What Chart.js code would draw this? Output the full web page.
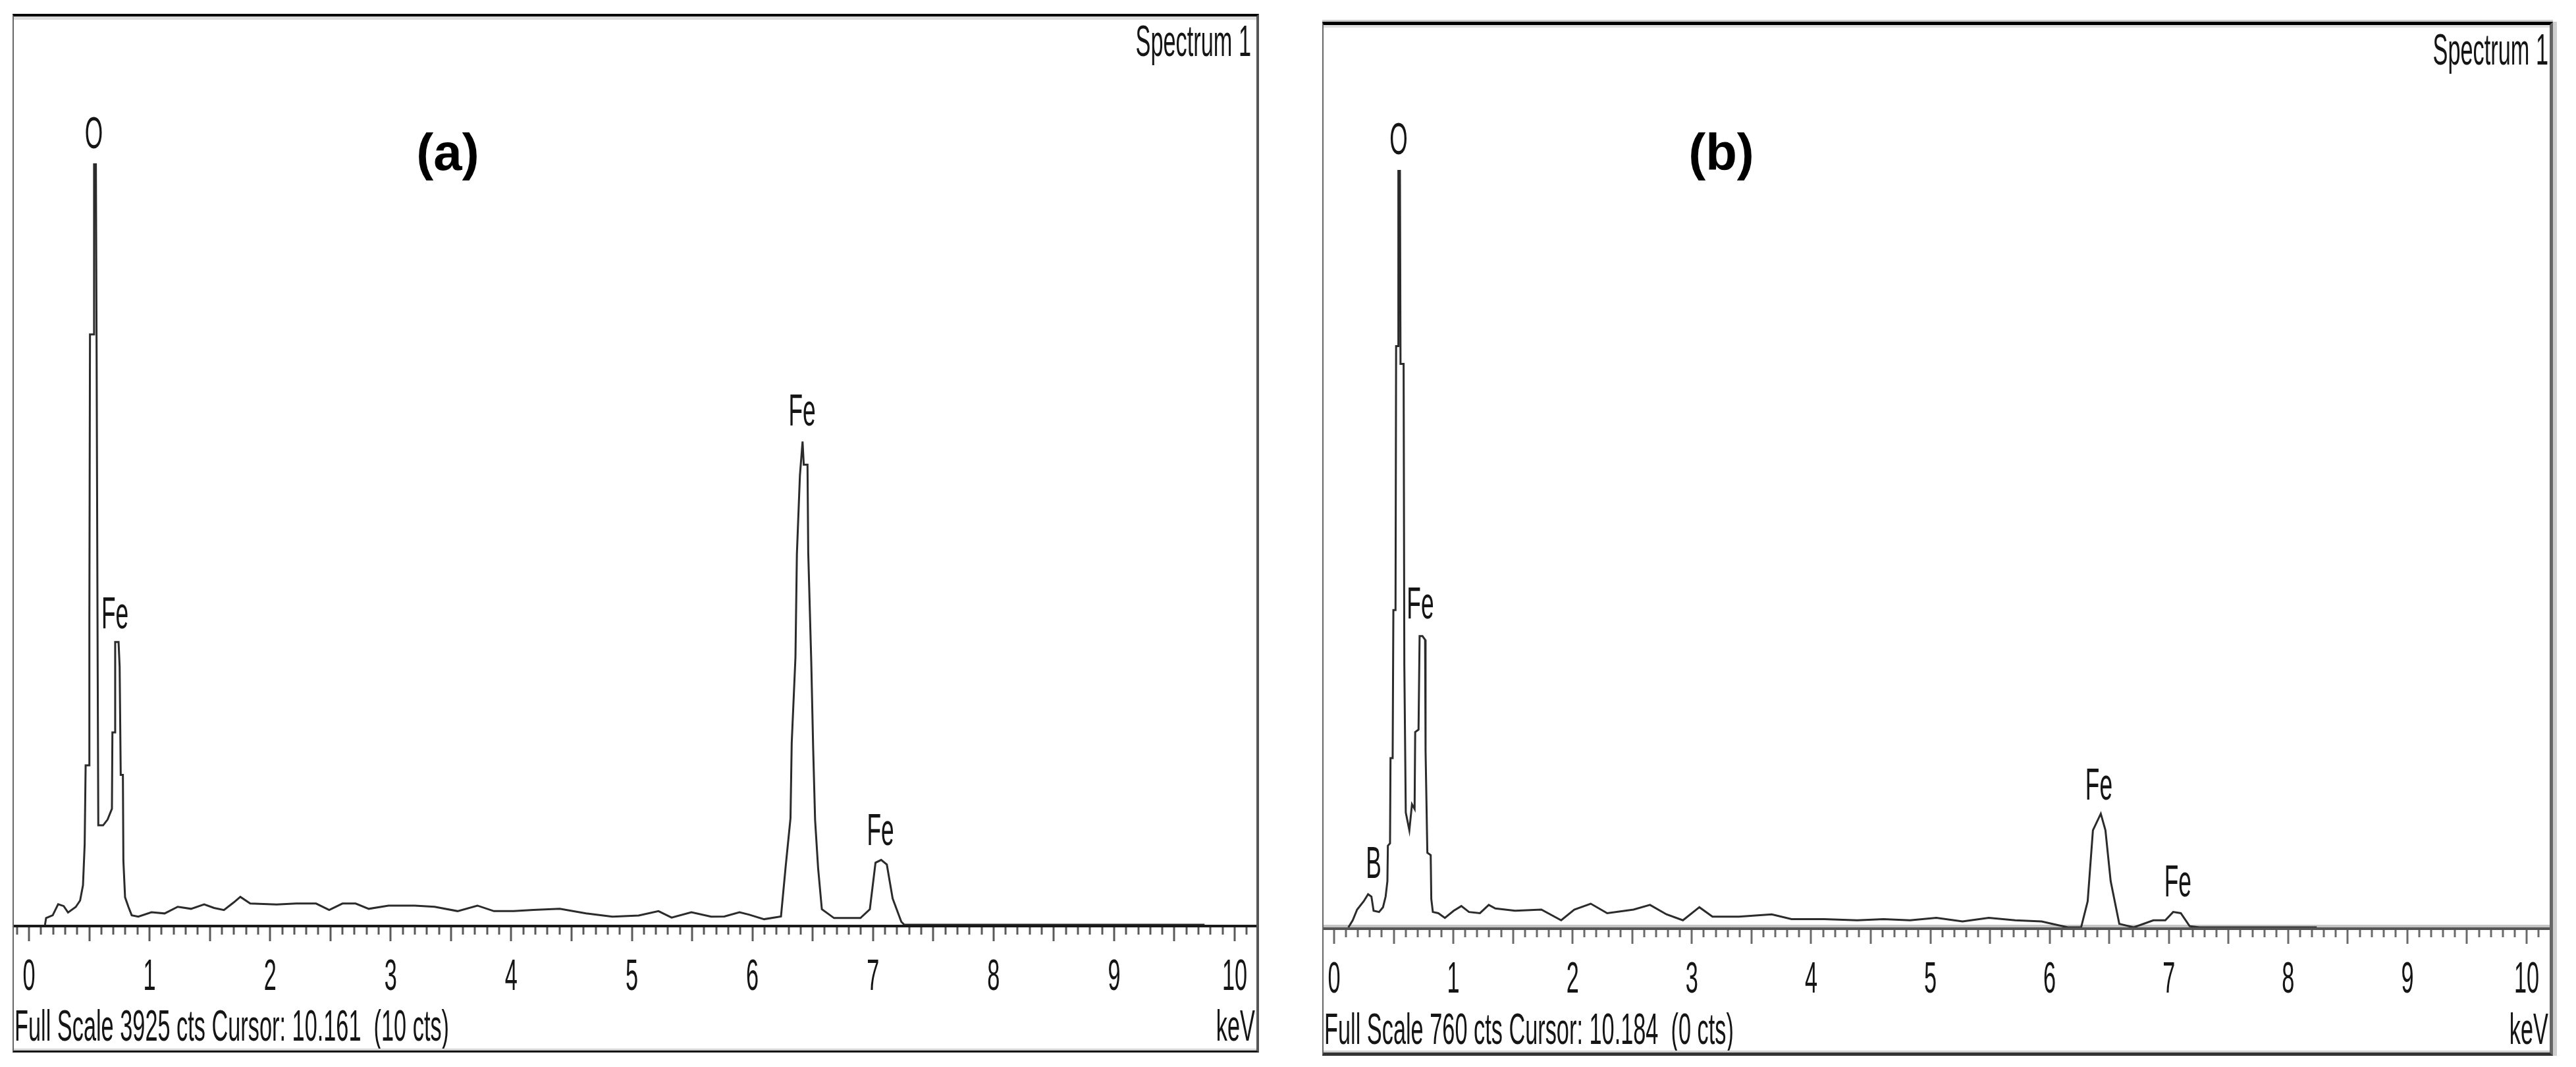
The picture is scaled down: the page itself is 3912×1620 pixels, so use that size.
<!DOCTYPE html>
<html>
<head>
<meta charset="utf-8">
<script src="https://cdn.jsdelivr.net/npm/chart.js@4.4.1/dist/chart.umd.min.js"></script>
<style>
  body { margin: 0; background: #fff; width: 3912px; height: 1620px; position: relative; overflow: hidden; }
  .frame { position: absolute; box-sizing: border-box; background: #fff; }
  #frameA { left: 19px; top: 21px; width: 1893px; height: 1577px;
    border-top: 4px solid #000; border-left: 2px solid #666; border-right: 4px solid #555; border-bottom: 3px solid #111;
    box-shadow: inset 0 5px 0 #dcdcdc, inset 0 -3px 0 #d4d4d4; }
  #frameB { left: 2008px; top: 33px; width: 1869px; height: 1570px;
    border-top: 5px solid #000; border-left: 2px solid #666; border-right: 5px solid #666; border-bottom: 5px solid #333;
    box-shadow: inset 0 4px 0 #e0e0e0, inset 0 -3px 0 #d0d0d0, 0 -3px 0 #cfcfcf, 6px 0 0 #cfcfcf; }
  canvas { position: absolute; }
  #specA { left: 21px; top: 30px; }
  #specB { left: 2010px; top: 42px; }
</style>
</head>
<body>
<div class="frame" id="frameA"></div>
<div class="frame" id="frameB"></div>
<canvas id="specA" width="1887" height="1562"></canvas>
<canvas id="specB" width="1862" height="1553"></canvas>
<script>
// spectrum (a): energy in keV, counts
var kevA = [0.133,0.142,0.197,0.242,0.288,0.324,0.388,0.424,0.448,0.462,0.470,0.497,0.501,0.506,0.538,0.540,0.555,0.561,0.570,0.575,
  0.615,0.652,0.688,0.692,0.710,0.715,0.743,0.752,0.761,0.779,0.783,0.797,0.825,0.852,0.907,1.016,1.125,1.234,1.344,1.453,
  1.535,1.617,1.699,1.753,1.835,2.054,2.217,2.381,2.490,2.600,2.709,2.818,2.982,3.200,3.364,3.555,3.719,3.856,4.020,4.184,
  4.402,4.620,4.839,5.057,5.221,5.330,5.494,5.658,5.767,5.893,5.971,6.097,6.237,6.276,6.316,6.326,6.357,6.369,6.394,6.416,
  6.426,6.457,6.463,6.488,6.504,6.520,6.545,6.576,6.677,6.896,6.974,7.021,7.068,7.115,7.163,7.235,7.260,9.750];
var ctsA = [0,29,41,89,81,53,77,105,171,349,691,691,1331,2560,2560,3298,3298,2480,1094,431,
  431,456,503,834,834,1226,1226,1119,650,650,278,119,77,41,35,54,49,78,69,88,
  73,64,97,121,92,88,92,92,64,92,92,69,83,83,78,59,83,59,59,64,
  69,49,35,40,59,31,54,35,36,54,44,24,36,253,462,787,1159,1608,1948,2096,
  1995,1995,1616,1143,764,454,245,67,29,29,67,269,281,261,114,13,0,0];

// spectrum (b)
var kevB = [0.120,0.156,0.193,0.248,0.285,0.313,0.331,0.377,0.410,0.432,0.447,0.451,0.469,0.473,0.491,0.497,0.515,0.520,0.536,0.539,
  0.552,0.557,0.583,0.589,0.601,0.631,0.653,0.675,0.680,0.708,0.717,0.741,0.763,0.767,0.782,0.810,0.815,0.828,0.874,0.929,
  1.003,1.067,1.131,1.223,1.297,1.352,1.518,1.738,1.904,2.014,2.152,2.290,2.511,2.649,2.787,2.925,3.063,3.173,3.394,3.670,
  3.836,4.110,4.387,4.608,4.829,5.050,5.270,5.490,5.712,5.933,6.153,6.264,6.319,6.363,6.429,6.468,6.512,6.584,6.705,6.870,
  6.970,7.036,7.100,7.174,7.257,8.240];
var ctsB = [0,6,15,22,28,26,14,13,17,26,39,69,71,143,143,268,268,491,491,639,
  639,476,476,221,97,82,104,100,165,167,246,246,243,149,63,61,24,13,12,8,
  14,18,13,12,19,16,14,15,6,15,20,12,15,19,11,6,17,9,9,11,
  7,7,6,7,6,8,5,8,6,5,0,0,22,82,96,82,39,3,0,6,
  6,13,12,1,0,0];

var tickLabels = ['0','1','2','3','4','5','6','7','8','9','10'];

// peak labels: element, keV, counts where the label sits
var peakNamesA = ['O','Fe','Fe','Fe'];
var peakKevA = [0.538, 0.713, 6.412, 7.062];
var peakCtsA = [3368, 1286, 2166, 346];

var peakNamesB = ['B','O','Fe','Fe','Fe'];
var peakKevB = [0.331, 0.541, 0.723, 6.413, 7.075];
var peakCtsB = [42, 653, 261, 108, 26];

var fullScaleA = 3925, fullScaleB = 760;
var footerA = 'Full Scale 3925 cts Cursor: 10.161  (10 cts)';
var footerB = 'Full Scale 760 cts Cursor: 10.184  (0 cts)';

function toPoints(xs, ys) {
  return xs.map(function (x, i) { return { x: x, y: ys[i] }; });
}

// the EDS software text is tall and narrow, so squeeze it horizontally
function squeeze(ctx, txt, x, y, size, align) {
  ctx.save();
  ctx.translate(x, y);
  ctx.scale(0.52, 1);
  ctx.font = size + 'px "Liberation Sans", Arial, sans-serif';
  ctx.textAlign = align;
  ctx.textBaseline = 'alphabetic';
  ctx.fillStyle = '#151515';
  ctx.fillText(txt, 0, 0);
  ctx.restore();
}

function decor(o) {
  return {
    id: 'decor',
    beforeDatasetsDraw: function (chart) {
      var ctx = chart.ctx, xs = chart.scales.x, ys = chart.scales.y, a = chart.chartArea;
      var y0 = ys.getPixelForValue(0);
      ctx.save();
      if (o.axisLight) {
        ctx.fillStyle = o.axisLight;
        ctx.fillRect(a.left, y0 - 4, a.right - a.left, 4);
      }
      ctx.fillStyle = o.axisColor;
      ctx.fillRect(a.left, y0, a.right - a.left, 4);
      // 0.1 keV ticks, longer every 0.5 keV
      ctx.fillStyle = o.tickColor;
      for (var i = -2; i <= 103; i++) {
        var v = i / 10;
        if (v < xs.min || v > xs.max) continue;
        var px = Math.round(xs.getPixelForValue(v));
        var len = (i % 5 === 0) ? 25 : 15;
        ctx.fillRect(px - 1.5, y0 + 4, 3, len - 4);
      }
      ctx.restore();
    },
    afterDatasetsDraw: function (chart) {
      var ctx = chart.ctx, xs = chart.scales.x, ys = chart.scales.y, a = chart.chartArea;
      var y0 = ys.getPixelForValue(0);
      tickLabels.forEach(function (t, i) {
        squeeze(ctx, t, xs.getPixelForValue(i), y0 + o.tickDy, 66, 'center');
      });
      o.names.forEach(function (n, i) {
        squeeze(ctx, n, xs.getPixelForValue(o.kev[i]), ys.getPixelForValue(o.cts[i]), 68, 'center');
      });
      squeeze(ctx, 'Spectrum 1', o.specX, o.specY, 66, 'right');
      squeeze(ctx, o.footer, 1, o.footY, 66, 'left');
      squeeze(ctx, 'keV', o.kevX, o.footY, 66, 'right');
      ctx.save();
      ctx.font = 'bold 78px "Liberation Sans", Arial, sans-serif';
      ctx.textAlign = 'center';
      ctx.fillStyle = '#000';
      ctx.fillText(o.title, o.titleX, o.titleY);
      ctx.restore();
    }
  };
}

function spectrumChart(id, kev, cts, xMin, xMax, yMax, padBottom, lineColor, o) {
  return new Chart(document.getElementById(id).getContext('2d'), {
    type: 'line',
    data: {
      datasets: [{
        data: toPoints(kev, cts),
        borderColor: lineColor,
        borderWidth: 3,
        pointRadius: 0,
        tension: 0,
        fill: false
      }]
    },
    options: {
      responsive: false,
      animation: false,
      layout: { padding: { left: 0, right: 0, top: 0, bottom: padBottom } },
      plugins: { legend: { display: false }, tooltip: { enabled: false } },
      scales: {
        x: { type: 'linear', display: false, min: xMin, max: xMax },
        y: { display: false, min: 0, max: yMax }
      }
    },
    plugins: [decor(o)]
  });
}

spectrumChart('specA', kevA, ctsA, -0.1256, 10.180, fullScaleA, 188, '#2b2b2b', {
  axisColor: '#1a1a1a', axisLight: null, tickColor: '#5a5a5a', tickDy: 99,
  names: peakNamesA, kev: peakKevA, cts: peakCtsA,
  specX: 1879, specY: 55, footer: footerA, footY: 1550, kevX: 1885,
  title: '(a)', titleX: 659, titleY: 228
});

spectrumChart('specB', kevB, ctsB, -0.0884, 10.193, fullScaleB, 187, '#2b2b2b', {
  axisColor: '#555', axisLight: '#c4c4c4', tickColor: '#6a6a6a', tickDy: 99,
  names: peakNamesB, kev: peakKevB, cts: peakCtsB,
  specX: 1860, specY: 56, footer: footerB, footY: 1543, kevX: 1860,
  title: '(b)', titleX: 604, titleY: 216
});
</script>
</body>
</html>
